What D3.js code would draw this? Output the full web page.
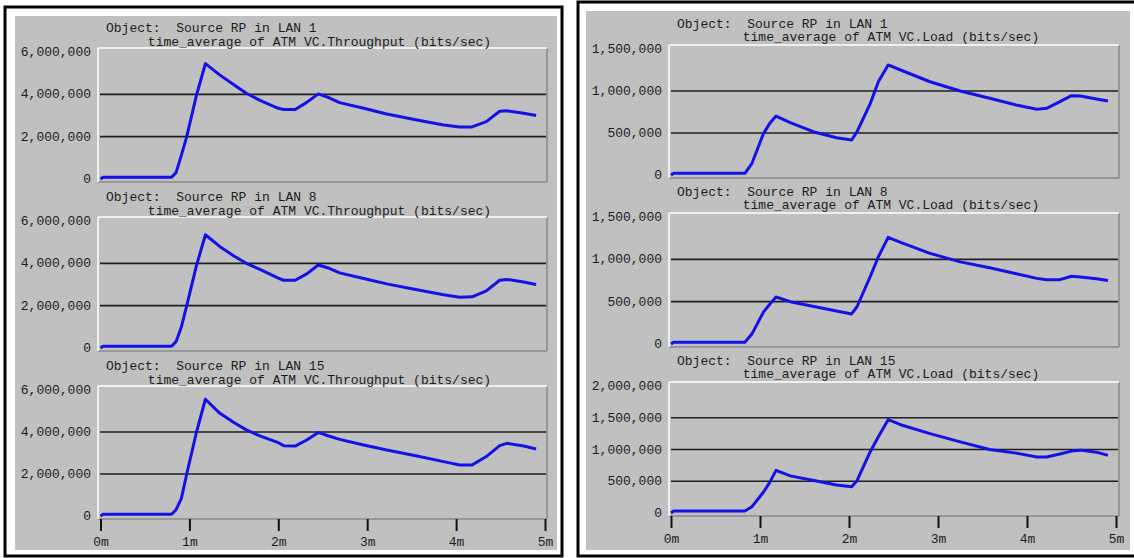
<!DOCTYPE html>
<html>
<head>
<meta charset="utf-8">
<script src="https://cdn.jsdelivr.net/npm/d3@7"></script>
<style>
  html, body { margin: 0; padding: 0; background: #ffffff; }
  svg { display: block; }
  text { font-family: "Liberation Mono", "DejaVu Sans Mono", monospace; font-size: 13px; fill: #1c1c1c; }
</style>
</head>
<body>
<svg id="chart" width="1134" height="558"></svg>
<script>
// ---------------- DATA ----------------
const objectNames = ["Source RP in LAN 1", "Source RP in LAN 8", "Source RP in LAN 15"];
const leftStat = "time_average of ATM VC.Throughput (bits/sec)";
const rightStat = "time_average of ATM VC.Load (bits/sec)";

const xTicks = [0, 1, 2, 3, 4, 5];               // minutes
const xTickLabels = ["0m", "1m", "2m", "3m", "4m", "5m"];

const leftYTicks = [0, 2000000, 4000000, 6000000];
const rightYTicksSmall = [0, 500000, 1000000, 1500000];
const rightYTicksLarge = [0, 500000, 1000000, 1500000, 2000000];

// time points (minutes) for the throughput plots
const timesThroughput = [0, 0.03, 0.80, 0.85, 0.91, 0.97, 1.08, 1.18, 1.34, 1.50, 1.64, 1.80, 2.00, 2.06, 2.19, 2.32, 2.45, 2.56, 2.69, 2.96, 3.22, 3.56, 3.86, 4.04, 4.18, 4.34, 4.49, 4.57, 4.76, 4.90];
const throughputLAN1  = [0, 80000, 80000, 300000, 1130000, 2000000, 3970000, 5450000, 4920000, 4450000, 4050000, 3700000, 3340000, 3280000, 3280000, 3620000, 4020000, 3860000, 3610000, 3340000, 3070000, 2790000, 2550000, 2460000, 2460000, 2710000, 3200000, 3220000, 3110000, 3000000];
const throughputLAN8  = [0, 80000, 80000, 300000, 1000000, 2000000, 3900000, 5350000, 4800000, 4350000, 4000000, 3700000, 3300000, 3200000, 3200000, 3500000, 3920000, 3780000, 3550000, 3280000, 3030000, 2750000, 2520000, 2400000, 2420000, 2700000, 3200000, 3240000, 3120000, 3000000];
const throughputLAN15 = [0, 80000, 80000, 300000, 840000, 2000000, 4000000, 5560000, 4900000, 4450000, 4100000, 3800000, 3490000, 3350000, 3330000, 3620000, 3980000, 3820000, 3650000, 3380000, 3140000, 2860000, 2590000, 2430000, 2430000, 2830000, 3350000, 3460000, 3330000, 3190000];

// time points (minutes) for the load plots
const timesLoad = [0, 0.03, 0.83, 0.91, 1.04, 1.11, 1.18, 1.34, 1.62, 1.86, 2.03, 2.09, 2.24, 2.33, 2.44, 2.58, 2.91, 3.25, 3.58, 3.88, 4.11, 4.22, 4.37, 4.50, 4.60, 4.78, 4.91];
const loadLAN1  = [0, 20000, 20000, 139000, 496000, 615000, 702000, 623000, 508000, 444000, 417000, 515000, 854000, 1110000, 1310000, 1250000, 1110000, 1000000, 913000, 833000, 782000, 794000, 873000, 944000, 940000, 905000, 881000];
const loadLAN8  = [0, 20000, 20000, 120000, 380000, 470000, 555000, 500000, 440000, 390000, 355000, 440000, 800000, 1030000, 1260000, 1200000, 1070000, 970000, 900000, 830000, 775000, 760000, 760000, 800000, 790000, 770000, 750000];
const loadLAN15 = [0, 30000, 30000, 100000, 330000, 482000, 672000, 585000, 508000, 442000, 415000, 508000, 969000, 1200000, 1470000, 1390000, 1250000, 1120000, 1000000, 943000, 882000, 882000, 930000, 975000, 990000, 958000, 908000];

// ---------------- LAYOUT ----------------
const svg = d3.select("#chart");
const GRAY = "#c0c0c0";
const BLUE = "#1212e6";

const panels = [
  {
    frame: {x: 5, y: 7, w: 557, h: 549}, bg: {x: 15, y: 16, w: 542, h: 534},
    boxX0: 98, boxX1: 547, tX0: 100.5, tX1: 545, titleX: 106, t1: 20, t2: 6,
    stat: leftStat, times: timesThroughput,
    series: [throughputLAN1, throughputLAN8, throughputLAN15],
    yTicks: [leftYTicks, leftYTicks, leftYTicks],
    boxes: [{top: 48, bottom: 182}, {top: 217, bottom: 351}, {top: 386, bottom: 519}]
  },
  {
    frame: {x: 578, y: 2, w: 560, h: 554}, bg: {x: 586, y: 11, w: 544, h: 539},
    boxX0: 669, boxX1: 1119, tX0: 671, tX1: 1116, titleX: 677, t1: 21, t2: 8,
    stat: rightStat, times: timesLoad,
    series: [loadLAN1, loadLAN8, loadLAN15],
    yTicks: [rightYTicksSmall, rightYTicksSmall, rightYTicksLarge],
    boxes: [{top: 45, bottom: 178}, {top: 213, bottom: 347}, {top: 382, bottom: 516}]
  }
];

const fmt = d3.format(",");

panels.forEach(p => {
  svg.append("rect").attr("x", p.frame.x).attr("y", p.frame.y)
    .attr("width", p.frame.w).attr("height", p.frame.h)
    .attr("fill", "#ffffff").attr("stroke", "#000").attr("stroke-width", 3);
  svg.append("rect").attr("x", p.bg.x).attr("y", p.bg.y)
    .attr("width", p.bg.w).attr("height", p.bg.h).attr("fill", GRAY);

  const x = d3.scaleLinear().domain([0, 5]).range([p.tX0, p.tX1]);

  p.boxes.forEach((b, i) => {
    const ticks = p.yTicks[i];
    const yMax = ticks[ticks.length - 1];
    const y = d3.scaleLinear().domain([0, yMax]).range([b.bottom - 3, b.top + 4]);
    const g = svg.append("g");

    // plot box with 3D edges
    g.append("rect").attr("x", p.boxX0).attr("y", b.top)
      .attr("width", p.boxX1 - p.boxX0).attr("height", b.bottom - b.top)
      .attr("fill", GRAY);
    g.append("line").attr("x1", p.boxX1).attr("x2", p.boxX1).attr("y1", b.top).attr("y2", b.bottom)
      .attr("stroke", "#8a8a8a").attr("stroke-width", 1.5);
    g.append("line").attr("x1", p.boxX0).attr("x2", p.boxX1).attr("y1", b.bottom).attr("y2", b.bottom)
      .attr("stroke", "#8a8a8a").attr("stroke-width", 1.5);
    g.append("line").attr("x1", p.boxX0).attr("x2", p.boxX1).attr("y1", b.top).attr("y2", b.top)
      .attr("stroke", "#ffffff").attr("stroke-width", 1.5);
    g.append("line").attr("x1", p.boxX0).attr("x2", p.boxX0).attr("y1", b.top).attr("y2", b.bottom)
      .attr("stroke", "#ffffff").attr("stroke-width", 1.5);

    // gridlines at interior ticks
    g.selectAll(".grid").data(ticks.slice(1, -1)).join("line")
      .attr("x1", p.boxX0 + 2).attr("x2", p.boxX1 - 1)
      .attr("y1", d => y(d)).attr("y2", d => y(d))
      .attr("stroke", "#1e1e1e").attr("stroke-width", 1.6);

    // y axis labels
    const ya = g.append("g").attr("transform", `translate(${p.boxX0},0)`)
      .call(d3.axisLeft(y).tickValues(ticks).tickSize(0).tickPadding(7).tickFormat(fmt));
    ya.select(".domain").remove();
    ya.selectAll("text").attr("font-family", null).attr("font-size", null)
      .attr("dy", null).attr("dominant-baseline", "central");

    // titles
    g.append("text").attr("x", p.titleX).attr("y", b.top - p.t1)
      .attr("dominant-baseline", "central").attr("xml:space", "preserve")
      .text("Object:  " + objectNames[i]);
    g.append("text").attr("x", (p.boxX0 + p.boxX1) / 2 - 3).attr("y", b.top - p.t2)
      .attr("dominant-baseline", "central").attr("text-anchor", "middle")
      .text(p.stat);

    // data line
    const vals = p.series[i];
    const line = d3.line().x((d, k) => x(p.times[k])).y(d => y(d));
    g.append("path").datum(vals).attr("d", line)
      .attr("fill", "none").attr("stroke", BLUE).attr("stroke-width", 3)
      .attr("stroke-linejoin", "round");

    // x axis on last plot only
    if (i === p.boxes.length - 1) {
      const xa = g.append("g").attr("transform", `translate(0,${b.bottom})`)
        .call(d3.axisBottom(x).tickValues(xTicks).tickSize(12)
          .tickFormat((d, k) => xTickLabels[k]));
      xa.select(".domain").remove();
      xa.selectAll("line").attr("stroke", "#111").attr("stroke-width", 2);
      xa.selectAll("text").attr("font-family", null).attr("font-size", null)
        .attr("y", 23).attr("dy", null).attr("dominant-baseline", "central");
    }
  });
});
</script>
</body>
</html>
